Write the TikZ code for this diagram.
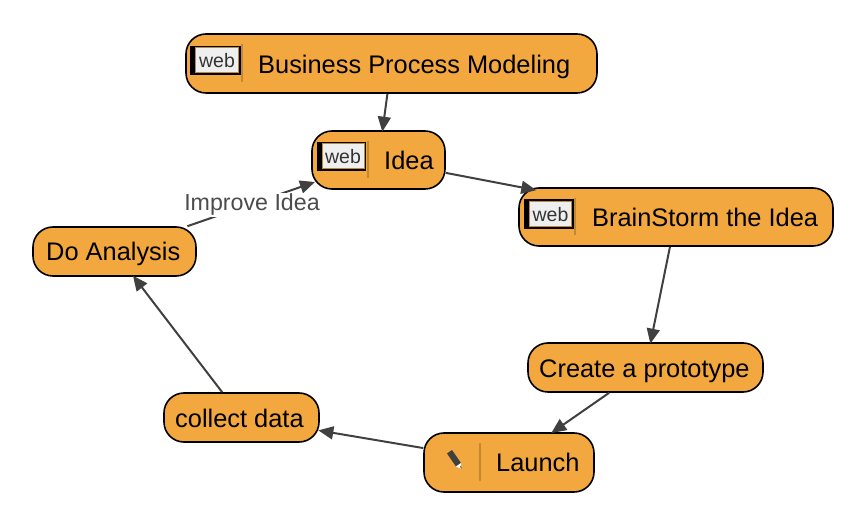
\documentclass[tikz,border=0pt]{standalone}
\usepackage{fontspec}
\setmainfont{Liberation Sans}
\usetikzlibrary{arrows.meta}
\definecolor{nodefill}{HTML}{F2A83E}
\definecolor{sep}{HTML}{C08A35}
\definecolor{edgecol}{HTML}{404040}
\definecolor{iconbg}{HTML}{EFEFEF}
\tikzset{
  x=1pt,y=-1pt,
  topic/.style={draw=black,fill=nodefill,line width=1.6pt,rounded corners=20pt,inner sep=0pt,anchor=center},
  lbl/.style={font=\fontsize{25.4}{28}\selectfont,text=black,inner sep=0pt,anchor=base west},
  link/.style={draw=edgecol,line width=2pt,shorten >=-1.5pt,-{Triangle[length=15pt,width=13pt]}},
  sepline/.style={draw=sep,line width=2pt},
  webbox/.style={draw=sep,line width=1pt,fill=iconbg,inner sep=0pt,font=\fontsize{19.5}{22}\selectfont,text=black!80},
  edgelbl/.style={font=\fontsize{23.2}{26}\selectfont,text=black!70,fill=white,inner sep=1.5pt}
}
\newcommand{\webicon}[5]{% name, left, top, right, bottom
  \fill[black] (#2,#3) rectangle (#4,#5);
  \node[webbox,minimum width=#4pt-#2pt-7.5pt,minimum height=#5pt-#3pt-4pt] (#1) at ({(#2+5.5+#4-2)/2},{(#3+#5)/2}) {web};
}
\begin{document}
\begin{tikzpicture}
\useasboundingbox (0,0) rectangle (868,526);
\node[topic,minimum width=411pt,minimum height=59pt] (bpm) at (391.5,63.5) {};
\node[topic,minimum width=133pt,minimum height=58pt] (idea) at (378.5,160) {};
\node[topic,minimum width=314pt,minimum height=58pt] (brain) at (676,217) {};
\node[topic,minimum width=235pt,minimum height=49pt,rounded corners=20pt] (proto) at (645.5,367.5) {};
\node[topic,minimum width=170pt,minimum height=59pt] (launch) at (509,462.5) {};
\node[topic,minimum width=155pt,minimum height=49pt,rounded corners=20pt] (collect) at (241.5,417.5) {};
\node[topic,minimum width=163pt,minimum height=49pt,rounded corners=20pt] (analysis) at (114.5,251.5) {};

\webicon{webA}{190}{46}{240.5}{75}
\webicon{webB}{316.5}{142}{366}{171}
\webicon{webC}{524}{199.5}{573.5}{229}
\draw[sepline] (241.8,44) -- (241.8,82);
\draw[sepline] (367.5,141) -- (367.5,178);
\draw[sepline] (574.5,198) -- (574.5,235);
\draw[sepline] (479.5,443) -- (479.5,481);

\node[lbl] (t1) at (258,74) {Business Process Modeling};
\node[lbl] (t2) at (384,170) {Idea};
\node[lbl] (t3) at (592,227) {BrainStorm the Idea};
\node[lbl] (t4) at (539,378) {Create a prototype};
\node[lbl] (t5) at (496,472) {Launch};
\node[lbl] (t6) at (175,428) {collect data};
\node[lbl] (t7) at (46,261) {Do Analysis};

% pencil
\fill[edgecol] (447,453.5) -- (452,450) -- (461,463) -- (456,466.5) -- cycle;
\fill[white] (456,466.5) -- (461,463) -- (461.5,469) -- cycle;
\fill[black] (460.3,467) -- (461,465.5) -- (461.5,469) -- cycle;

\draw[link] (bpm) -- (idea);
\draw[link,shorten >=-16pt] (idea) -- (brain);
\draw[link] (brain) -- (proto);
\draw[link] (proto) -- (launch);
\draw[link] (launch) -- (collect);
\draw[link] (collect) -- (analysis);
\draw[link,shorten >=-4pt] (analysis) -- (idea);
\node[edgelbl] (imp) at (252,205) {Improve Idea};
\end{tikzpicture}
\end{document}
